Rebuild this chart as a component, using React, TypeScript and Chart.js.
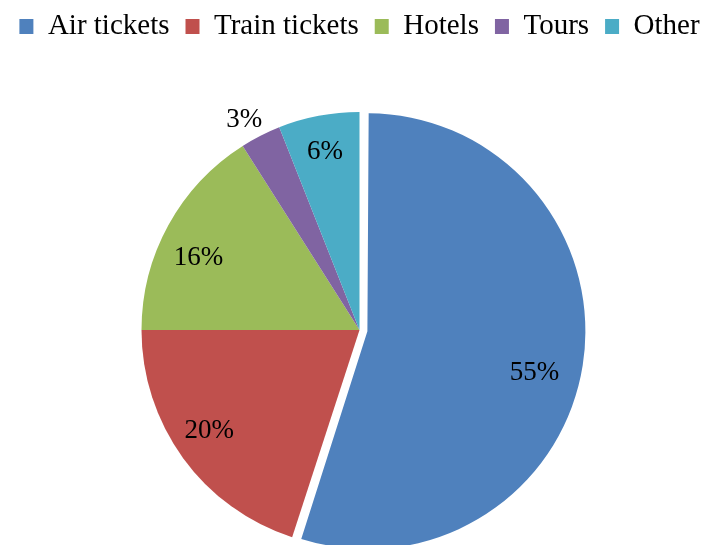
import React, { useEffect, useRef } from "react";
import { Chart, registerables } from "chart.js";

Chart.register(...registerables);

const categories = ["Air tickets", "Train tickets", "Hotels", "Tours", "Other"];
const shares = [55, 20, 16, 3, 6];
const sliceColors = ["#4F81BD", "#C0504D", "#9BBB59", "#8064A2", "#4BACC6"];
const explode = [32, 0, 0, 0, 0];
// label placement: fraction along the slice's angle span, and fraction of radius
const labelAngleFrac = [0.525, 0.53, 0.42, 0.34, 0.49];
const labelRadius = [0.79, 0.83, 0.81, 1.1, 0.83];

const FONT = '"Liberation Serif", "Times New Roman", serif';
const PIE_R = 218;
const CANVAS_TOP = -4;
const CANVAS_H = 613;

const labelPlugin = {
  id: "sliceLabels",
  beforeDatasetsDraw(chart: any) {
    const meta = chart.getDatasetMeta(0);
    meta.data.forEach((el: any, i: number) => {
      el.outerRadius = PIE_R - (explode[i] || 0) / 4;
    });
  },
  afterDatasetsDraw(chart: any) {
    const meta = chart.getDatasetMeta(0);
    const ctx = chart.ctx;
    ctx.save();
    ctx.font = `27px ${FONT}`;
    ctx.fillStyle = "#000";
    ctx.textAlign = "center";
    ctx.textBaseline = "middle";
    meta.data.forEach((el: any, i: number) => {
      const { x, y, startAngle, endAngle } = el.getProps(["x", "y", "startAngle", "endAngle"], true);
      const mid = (startAngle + endAngle) / 2;
      const shift = (explode[i] || 0) / 4;
      const cx = x + Math.cos(mid) * shift;
      const cy = y + Math.sin(mid) * shift;
      const a = startAngle + (endAngle - startAngle) * labelAngleFrac[i];
      const r = PIE_R * labelRadius[i];
      ctx.fillText(`${shares[i]}%`, cx + Math.cos(a) * r, cy + Math.sin(a) * r);
    });
    ctx.restore();
  },
};

export default function App() {
  const ref = useRef<HTMLCanvasElement | null>(null);
  useEffect(() => {
    if (!ref.current) return;
    const chart = new Chart(ref.current, {
      type: "pie",
      data: {
        labels: categories,
        datasets: [
          {
            data: shares,
            backgroundColor: sliceColors,
            borderWidth: 0,
            offset: explode,
            clip: false,
          } as any,
        ],
      },
      options: {
        responsive: false,
        animation: false,
        events: [],
        radius: PIE_R,
        layout: { padding: 0 },
        plugins: {
          legend: {
            position: "top",
            labels: {
              font: { family: FONT, size: 29 },
              color: "#000",
              boxWidth: 14,
              boxHeight: 15,
              padding: 16,
            },
          },
          tooltip: { enabled: false },
        },
      } as any,
      plugins: [labelPlugin],
    });
    return () => chart.destroy();
  }, []);
  return (
    <div
      style={{
        position: "fixed",
        left: 0,
        top: 0,
        width: 719,
        height: 545,
        overflow: "hidden",
        background: "#fff",
      }}
    >
      <canvas
        ref={ref}
        width={719}
        height={CANVAS_H}
        style={{ position: "absolute", left: 0, top: CANVAS_TOP, width: 719, height: CANVAS_H }}
      />
    </div>
  );
}
